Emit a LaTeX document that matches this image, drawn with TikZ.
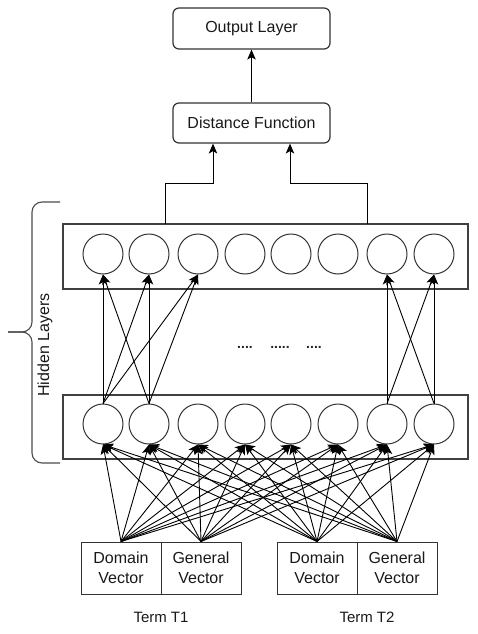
\documentclass[tikz,border=0pt]{standalone}
\usepackage{fontspec}
\setmainfont{Liberation Sans}
\usetikzlibrary{arrows.meta}
\begin{document}
\begin{tikzpicture}[x=1pt,y=-1pt,
  txt/.style={font=\fontsize{16}{20}\selectfont, text=black!90},
  topbox/.style={txt, draw=black!80, line width=1.2pt, rounded corners=6pt, minimum width=157pt, minimum height=41pt, inner sep=0pt},
  layer/.style={draw=black!75, line width=1.2pt, minimum width=405pt, minimum height=65pt, inner sep=0pt},
  neuron/.style={circle, draw=black!80, line width=1pt, minimum size=40pt, inner sep=0pt},
  vecbox/.style={txt, draw=black!80, line width=1pt, minimum width=80pt, minimum height=52pt, align=center, inner sep=0pt},
  arr/.style={-{Stealth[length=10pt,width=8.5pt,inset=2.5pt]}, line width=0.9pt},
  brace/.style={draw=black!70, line width=1.1pt, rounded corners=10pt},
  dots/.style={font=\bfseries\fontsize{14}{14}\selectfont, text=black!85, inner sep=0pt}
]
\useasboundingbox (0,0) rectangle (478,634);

% top boxes
\node[topbox] (out) at (251.5,28.5) {Output Layer};
\node[topbox, minimum height=40pt] (dist) at (251.5,123) {Distance Function};

% hidden layers
\node[layer] (upper) at (265.5,256.5) {};
\node[layer, minimum height=64pt] (lower) at (265.5,427) {};

\foreach \i/\x in {1/103,2/149,3/198,4/245,5/291,6/338,7/387,8/434}{
  \node[neuron] (u\i) at (\x,254) {};
  \node[neuron] (l\i) at (\x,424) {};
}

% input vectors
\node[vecbox] (d1) at (121,568) {Domain\\Vector};
\node[vecbox] (g1) at (201,568) {General\\Vector};
\node[vecbox] (d2) at (317,568) {Domain\\Vector};
\node[vecbox] (g2) at (397,568) {General\\Vector};

\node[txt, font=\fontsize{15}{18}\selectfont] (t1) at (161,617) {Term T1};
\node[txt, font=\fontsize{15}{18}\selectfont] (t2) at (367,617) {Term T2};

% input -> lower layer
\foreach \s in {d1,g1,d2,g2}{
  \foreach \t in {1,...,8}{
    \draw[arr] (\s.north) -- (l\t.south);
  }
}

% lower -> upper
\foreach \a in {1,2}{
  \foreach \b in {1,2,3}{
    \draw[arr] (l\a.north) -- (u\b.south);
  }
}
\foreach \a in {7,8}{
  \foreach \b in {7,8}{
    \draw[arr] (l\a.north) -- (u\b.south);
  }
}

% dots
\node[dots] (dA) at (245,347) {....};
\node[dots] (dB) at (280,347) {.....};
\node[dots] (dC) at (314,347) {....};

% upper layer -> distance function
\coordinate (s1) at (165,224);
\coordinate (s2) at (367,224);
\draw[arr] (s1) |- ([xshift=-38.5pt,yshift=-40pt]dist.south) -- ([xshift=-38.5pt]dist.south);
\draw[arr] (s2) |- ([xshift=38.5pt,yshift=-40pt]dist.south) -- ([xshift=38.5pt]dist.south);
\draw[arr] (dist.north) -- (out.south);

% brace
\coordinate (bt) at (60,202);
\coordinate (bb) at (60,463);
\coordinate (bm) at (8,332);
\draw[brace] (bt) -- (32,202) -- (32,332) -- (bm);
\draw[brace] (bb) -- (32,463) -- (32,332) -- (bm);
\node[txt, rotate=90] (hl) at (45,345) {Hidden Layers};

\end{tikzpicture}
\end{document}
